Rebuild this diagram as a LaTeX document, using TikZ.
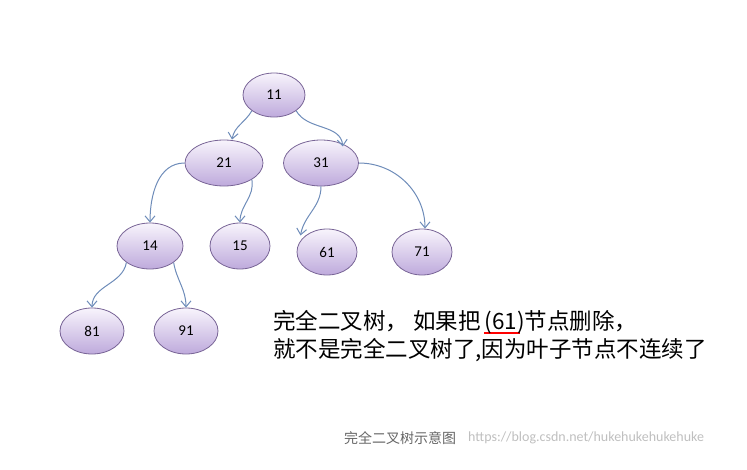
\documentclass[tikz,border=0pt]{standalone}
\usepackage{fontspec}
\setmainfont{Carlito}
\newfontfamily\cjk{Noto Sans CJK SC}
\usetikzlibrary{shapes.geometric,arrows.meta}
\definecolor{edge}{RGB}{110,140,185}
\definecolor{rim}{RGB}{120,100,150}
\definecolor{fillA}{RGB}{248,244,252}
\definecolor{fillB}{RGB}{190,170,220}
\tikzset{
 tn/.style={ellipse,draw=rim,line width=0.8pt,top color=fillA,bottom color=fillB,minimum width=64pt,minimum height=46pt,inner sep=0pt,font=\fontsize{15}{15}\selectfont},
 con/.style={draw=edge,line width=1pt,-{Straight Barb[length=6pt,width=10pt]}}
}
\begin{document}
\begin{tikzpicture}[x=1pt,y=-1pt]
\useasboundingbox (0,0) rectangle (747,469);
\node[tn,minimum width=62pt,minimum height=44pt] (n11) at (274,95) {11};
\node[tn,minimum width=78pt] (n21) at (224,163) {21};
\node[tn,minimum width=75pt] (n31) at (321,163) {31};
\node[tn,minimum width=66pt] (n14) at (150,246) {14};
\node[tn,minimum width=60pt] (n15) at (240,246) {15};
\node[tn,minimum width=60pt] (n61) at (327,252) {61};
\node[tn,minimum width=60pt] (n71) at (422,252) {71};
\node[tn] (n81) at (92,331) {81};
\node[tn] (n91) at (186,331) {91};
\draw[con] (n11.south west) to[out=-120,in=80] ([xshift=8pt]n21.north);
\draw[con] (n11.south east) to[out=-60,in=95] ([xshift=-5pt]n31.north east);
\draw[con] (n21.west) to[out=180,in=90] (n14.north);
\draw[con] (n21.south east) to[out=-80,in=90] (n15.north);
\draw[con] (n31.south) to[out=-90,in=80] ([xshift=-5pt]n61.north west);
\draw[con] (n31.east) to[out=0,in=90] ([xshift=3pt]n71.north);
\draw[con] (n14.south west) to[out=-100,in=90] (n81.north);
\draw[con] (n14.south east) to[out=-80,in=90] (n91.north);
\node[anchor=west,font=\cjk\fontsize{22.5}{28}\selectfont,align=left,inner sep=0pt] (txt) at (273,336) {完全二叉树， 如果把\,\rlap{\raisebox{-5pt}{\color{red}\rule{36pt}{2.5pt}}}(61)节点删除，\\就不是完全二叉树了,因为叶子节点不连续了};
\node[font=\cjk\fontsize{14}{14}\selectfont,text=black!60] (cap) at (400,438) {完全二叉树示意图};
\node[anchor=west,font=\fontsize{14}{14}\selectfont,text=black!25,inner sep=0pt] (wm) at (468,438) {https://blog.csdn.net/hukehukehukehuke};
\end{tikzpicture}
\end{document}
